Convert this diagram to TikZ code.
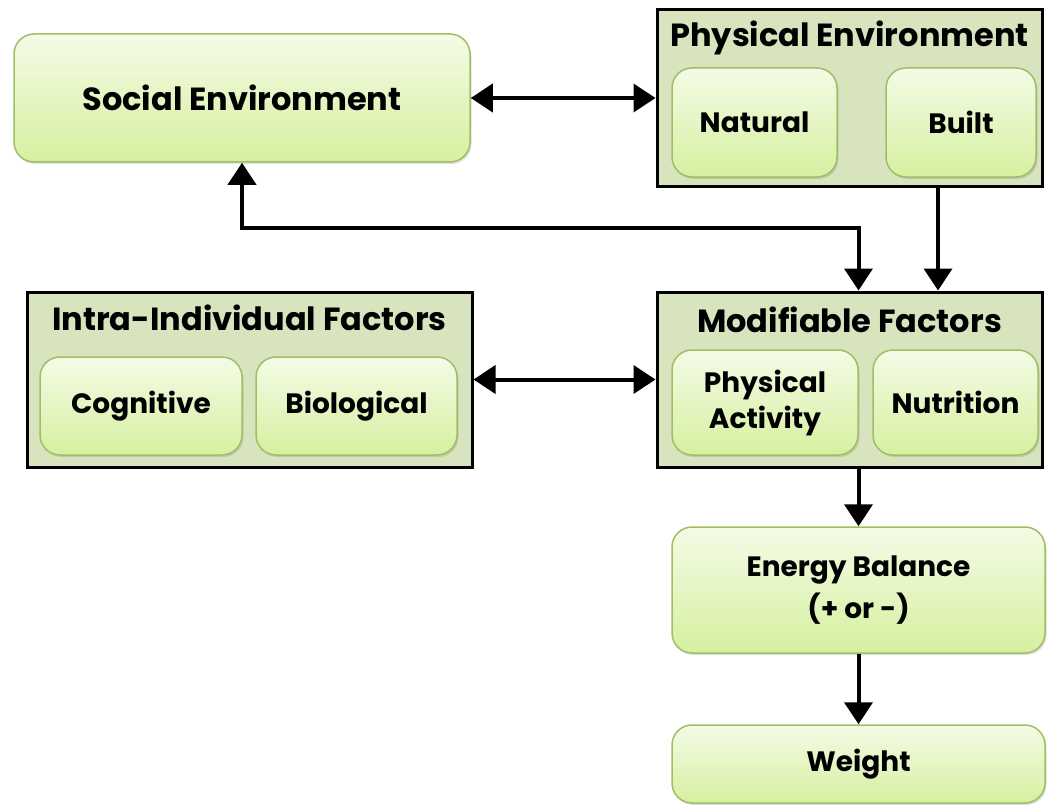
\documentclass[tikz,border=0pt]{standalone}
\usepackage{fontspec}
\setmainfont{Poppins}
\usepackage{tikz}
\usetikzlibrary{positioning,calc,arrows.meta,shadows}
\definecolor{GroupFill}{RGB}{216,228,190}
\definecolor{BoxTop}{RGB}{244,251,230}
\definecolor{BoxBottom}{RGB}{214,240,160}
\definecolor{BoxLine}{RGB}{160,190,100}
\tikzset{
    factorbox/.style={rectangle, rounded corners=20pt, draw=BoxLine, line width=1.5pt,
        top color=BoxTop, bottom color=BoxBottom, align=center, inner sep=0pt,
        font=\bfseries\fontsize{28}{36}\selectfont,
        drop shadow={opacity=0.25, shadow xshift=1.5pt, shadow yshift=-2pt}},
    groupbox/.style={rectangle, draw=black, line width=3pt, fill=GroupFill, inner sep=0pt},
    grouptitle/.style={font=\bfseries\fontsize{32}{38}\selectfont},
    link/.style={line width=4pt, -{Triangle[length=22pt, width=28pt]}},
    twolink/.style={line width=4pt, {Triangle[length=22pt, width=28pt]}-{Triangle[length=22pt, width=28pt]}}
}
\begin{document}
\begin{tikzpicture}[x=1pt, y=-1pt]
    \useasboundingbox (0,0) rectangle (1048,805);

    % Umgebung
    \node[factorbox, minimum width=456pt, minimum height=128pt, font=\bfseries\fontsize{32}{38}\selectfont]
        (social) at (242,98) {Social Environment};
    \node[groupbox, minimum width=385pt, minimum height=176pt] (physgroup) at (849.5,98) {};
    \node[grouptitle] (phystitle) at (849.5,38) {Physical Environment};
    \node[factorbox, minimum width=165pt, minimum height=109pt] (natural) at (754.5,122.5) {Natural};
    \node[factorbox, minimum width=150pt, minimum height=109pt] (built) at (961,122.5) {Built};

    % Faktoren
    \node[groupbox, minimum width=445pt, minimum height=175pt] (intragroup) at (249.5,379.5) {};
    \node[grouptitle] (intratitle) at (249.5,318) {Intra-Individual Factors};
    \node[factorbox, minimum width=202pt, minimum height=98pt] (cognitive) at (141,406) {Cognitive};
    \node[factorbox, minimum width=201pt, minimum height=98pt] (biological) at (356.5,406) {Biological};

    \node[groupbox, minimum width=385pt, minimum height=175pt] (modgroup) at (849.5,379.5) {};
    \node[grouptitle] (modtitle) at (849.5,320) {Modifiable Factors};
    \node[factorbox, minimum width=186pt, minimum height=105pt] (physact) at (765,402.5) {Physical\\Activity};
    \node[factorbox, minimum width=165pt, minimum height=105pt] (nutrition) at (955.5,402.5) {Nutrition};

    % Ergebnis
    \node[factorbox, minimum width=373pt, minimum height=126pt, font=\bfseries\fontsize{28}{42}\selectfont]
        (energy) at (858.5,590) {Energy Balance\\(+ or -)};
    \node[factorbox, minimum width=373pt, minimum height=78pt] (weight) at (858.5,764) {Weight};

    % Pfeile
    \coordinate (midrow) at (0,228);
    \draw[twolink] (social.east) -- (physgroup.west);
    \draw[twolink] (social.south) |- (midrow -| energy.north) -- (modgroup.north -| energy.north);
    \draw[link] ($(physgroup.south)+(88.5,0)$) -- ($(modgroup.north)+(88.5,0)$);
    \draw[twolink] (intragroup.east) -- (modgroup.west);
    \draw[link] (modgroup.south -| energy.north) -- (energy.north);
    \draw[link] (energy.south) -- (weight.north);
\end{tikzpicture}
\end{document}
